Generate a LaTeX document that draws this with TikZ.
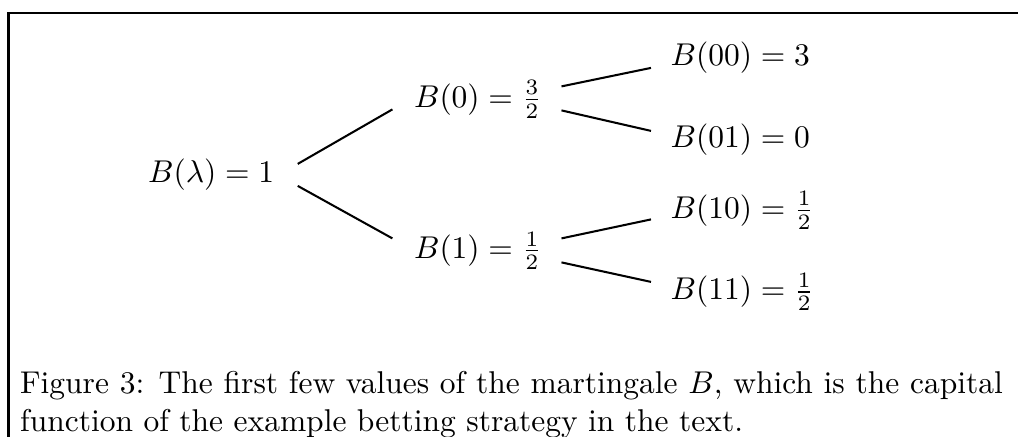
\documentclass[tikz,border=0pt]{standalone}
\usetikzlibrary{calc}
\begin{document}
\begin{tikzpicture}[x=0.3175pt, y=-0.3175pt,
            val/.style={inner sep=0pt, anchor=base west},
            ed/.style={draw=black, line width=0.65pt},
            frm/.style={draw=black, line width=0.95pt}]
            \useasboundingbox (0,0) rectangle (1018,437);
            \draw[frm] (8.5,437) -- (8.5,13) -- (1018,13);
            % values of the martingale
            \node[val] (lam) at (147.4,182.9) {$B(\lambda) = 1$};
            \node[val] (0)   at (413.4,107.4) {$B(0) = \frac{3}{2}$};
            \node[val] (1)   at (413.4,258.4) {$B(1) = \frac{1}{2}$};
            \node[val] (00)  at (670,65.9)    {$B(00) = 3$};
            \node[val] (01)  at (670,147.9)   {$B(01) = 0$};
            \node[val] (10)  at (670,218.4)   {$B(10) = \frac{1}{2}$};
            \node[val] (11)  at (670,299.9)   {$B(11) = \frac{1}{2}$};
            \draw[ed] ([shift={(23,-19)}]lam.base east) -- ([shift={(-21,2)}]0.base west);
            \draw[ed] ([shift={(23,3)}]lam.base east)   -- ([shift={(-21,-20)}]1.base west);
            \draw[ed] ([shift={(19,-21)}]0.base east)   -- ([shift={(-19,2)}]00.base west);
            \draw[ed] ([shift={(19,3)}]0.base east)     -- ([shift={(-19,-17)}]01.base west);
            \draw[ed] ([shift={(19,-20)}]1.base east)   -- ([shift={(-19,1)}]10.base west);
            \draw[ed] ([shift={(19,4)}]1.base east)     -- ([shift={(-19,-18)}]11.base west);
            % caption
            \node[inner sep=0pt, anchor=north west, text width=312pt, align=justify] (cap) at (19.5,370.6)
              {Figure 3: The first few values of the martingale $B$, which is the capital function of the example betting strategy in the text.};
\end{tikzpicture}
\end{document}
